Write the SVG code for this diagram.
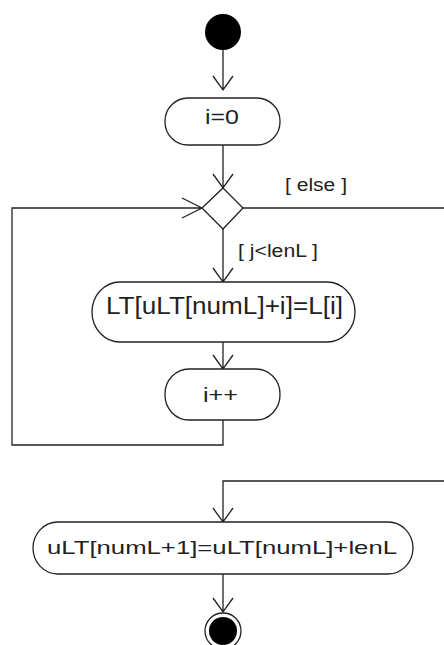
<svg xmlns="http://www.w3.org/2000/svg" width="444" height="645" viewBox="0 0 444 645">
<style>
.n{fill:#fff;stroke:#222;stroke-width:1.3}
.c{fill:none;stroke:#222;stroke-width:1.3}
.t{font-family:"Liberation Sans",Arial,sans-serif;fill:#222}
</style>
<rect width="444" height="645" fill="#fff"/>
<g id="connectors">
<path class="c" d="M223,50 V90 M213,76 L223,90 L233,76"/>
<path class="c" d="M223,145 V188 M213,174 L223,188 L233,174"/>
<path class="c" d="M223,229 V282 M213,268 L223,282 L233,268"/>
<path class="c" d="M223,342 V369 M213,355 L223,369 L233,355"/>
<path class="c" d="M223,420 V445 H12 V208 H202 M182,198 L202,208 L182,218"/>
<path class="c" d="M243,208 H444"/>
<path class="c" d="M444,481 H223 V522 M213,508 L223,522 L233,508"/>
<path class="c" d="M223,574 V612 M213,598 L223,612 L233,598"/>
<text class="t" x="285" y="191" font-size="18" textLength="62" lengthAdjust="spacingAndGlyphs">[ else ]</text>
<text class="t" x="238" y="257" font-size="18" textLength="80" lengthAdjust="spacingAndGlyphs">[ j&lt;lenL ]</text>
</g>
<g id="start"><circle cx="223" cy="32" r="18" fill="#000"/></g>
<g id="init">
<rect class="n" x="165" y="98" width="115" height="47" rx="23" ry="23"/>
<text class="t" x="205" y="124" font-size="21" textLength="34" lengthAdjust="spacingAndGlyphs">i=0</text>
</g>
<g id="decision"><polygon class="n" points="223,188 243,208 223,229 202,208"/></g>
<g id="assign">
<rect class="n" x="92" y="282" width="263" height="60" rx="28" ry="30"/>
<text class="t" x="106" y="314" font-size="23" textLength="237" lengthAdjust="spacingAndGlyphs">LT[uLT[numL]+i]=L[i]</text>
</g>
<g id="incr">
<rect class="n" x="165" y="369" width="115" height="51" rx="24" ry="25"/>
<text class="t" x="203" y="402" font-size="21" textLength="35" lengthAdjust="spacingAndGlyphs">i++</text>
</g>
<g id="update">
<rect class="n" x="33" y="522" width="380" height="52" rx="25" ry="26"/>
<text class="t" x="47" y="554" font-size="19" textLength="350" lengthAdjust="spacingAndGlyphs">uLT[numL+1]=uLT[numL]+lenL</text>
</g>
<g id="end">
<circle cx="223" cy="631" r="18" fill="#fff" stroke="#222" stroke-width="1.3"/>
<circle cx="223" cy="631" r="14" fill="#000"/>
</g>
</svg>
